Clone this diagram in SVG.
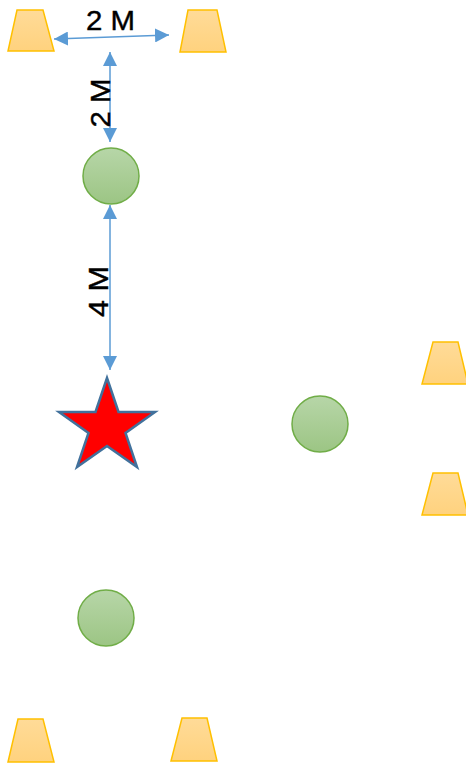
<svg xmlns="http://www.w3.org/2000/svg" width="466" height="764" viewBox="0 0 466 764">
  <style>
    .cone { fill: url(#coneFill); stroke: #FFC000; stroke-width: 1.5; stroke-linejoin: miter; }
    .ball { fill: url(#ballFill); stroke: #70AD47; stroke-width: 1.5; }
    .dim { stroke: #5B9BD5; stroke-width: 1.5; fill: none; marker-start: url(#head); marker-end: url(#head); }
    .label { font-family: "Liberation Sans", Arial, sans-serif; font-size: 27px; fill: #000; stroke: #000; stroke-width: 0.4; text-anchor: middle; }
  </style>
  <defs>
    <linearGradient id="coneFill" x1="0" y1="0" x2="0" y2="1">
      <stop offset="0" stop-color="#FFDB98"/>
      <stop offset="1" stop-color="#FFD27E"/>
    </linearGradient>
    <linearGradient id="ballFill" x1="0" y1="0" x2="0" y2="1">
      <stop offset="0" stop-color="#B7D6A8"/>
      <stop offset="1" stop-color="#9CC584"/>
    </linearGradient>
    <marker id="head" markerUnits="userSpaceOnUse" markerWidth="16" markerHeight="14" refX="14" refY="7" orient="auto-start-reverse">
      <path d="M0,0 L14,7 L0,14 Z" fill="#5B9BD5"/>
    </marker>
  </defs>

  <!-- cones -->
  <g id="cone-top-left"><polygon class="cone" points="17,10 43,10 54,51 8,51"/></g>
  <g id="cone-top-right"><polygon class="cone" points="188,10 217,10 226,52 180,52"/></g>
  <g id="cone-right-upper"><polygon class="cone" points="433,342 458,342 468,384 422,384"/></g>
  <g id="cone-right-lower"><polygon class="cone" points="433,473 458,473 468,515 422,515"/></g>
  <g id="cone-bottom-left"><polygon class="cone" points="18,719 43,719 54,762 8,762"/></g>
  <g id="cone-bottom-right"><polygon class="cone" points="182,718 207,718 217,761 171,761"/></g>

  <!-- players -->
  <g id="ball-top"><circle class="ball" cx="111" cy="176" r="28"/></g>
  <g id="ball-right"><circle class="ball" cx="320" cy="424" r="28"/></g>
  <g id="ball-bottom"><circle class="ball" cx="106" cy="618" r="28"/></g>

  <!-- start star -->
  <g id="star">
    <polygon points="107,378 118.5,412 155,412 125.5,433 137,467 107,446 77,467 88.5,433 59,412 95.5,412" fill="#FF0000" stroke="#41719C" stroke-width="2.5" stroke-linejoin="miter"/>
  </g>

  <!-- dimension arrows -->
  <g id="connectors">
    <line class="dim" x1="54" y1="39" x2="169" y2="35"/>
    <line class="dim" x1="110" y1="52" x2="110" y2="142"/>
    <line class="dim" x1="110" y1="205" x2="110" y2="370"/>
  </g>

  <!-- labels -->
  <g id="labels">
    <text class="label" x="110.5" y="29.5" textLength="49" lengthAdjust="spacingAndGlyphs">2 M</text>
    <text class="label" transform="translate(110,103) rotate(-90)" textLength="49" lengthAdjust="spacingAndGlyphs">2 M</text>
    <text class="label" transform="translate(107.5,291.5) rotate(-90)" textLength="51" lengthAdjust="spacingAndGlyphs">4 M</text>
  </g>
</svg>
